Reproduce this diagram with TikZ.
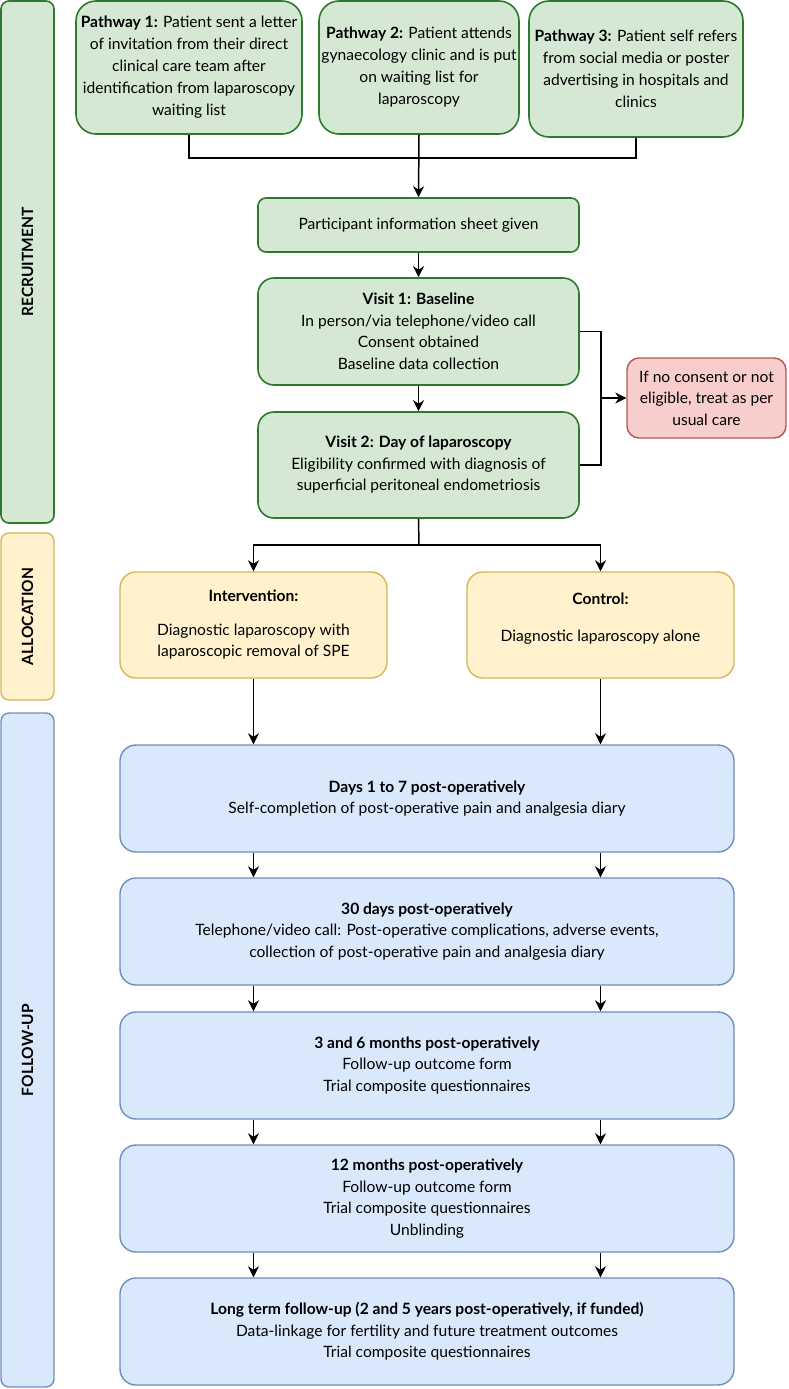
\documentclass[tikz,border=0pt]{standalone}
\usepackage{fontspec}
\setmainfont{Lato}
\usetikzlibrary{arrows.meta}
\definecolor{gfill}{HTML}{D5E8D4}
\definecolor{gdraw}{HTML}{2D7A2D}
\definecolor{yfill}{HTML}{FFF2CC}
\definecolor{ydraw}{HTML}{D6B656}
\definecolor{rfill}{HTML}{F8CECC}
\definecolor{rdraw}{HTML}{B85450}
\definecolor{bfill}{HTML}{DAE8FC}
\definecolor{bdraw}{HTML}{6C8EBF}
\tikzset{
  base/.style={rectangle, align=center, inner sep=2pt, font=\fontsize{15.6}{21.5}\selectfont},
  gbox/.style={base, draw=gdraw, fill=gfill, line width=1.6pt},
  ybox/.style={base, draw=ydraw, fill=yfill, line width=1.4pt},
  rbox/.style={base, draw=rdraw, fill=rfill, line width=1.4pt},
  bbox/.style={base, draw=bdraw, fill=bfill, line width=1.4pt},
  sidebar/.style={rotate=90, minimum height=53pt, rounded corners=8pt, font=\fontsize{15.5}{17}\selectfont\bfseries},
  conn/.style={line width=1.5pt, black},
  arr/.style={conn, -{Stealth[length=11pt,width=11pt,inset=3.5pt]}},
  fubox/.style={bbox, minimum width=614pt, minimum height=107pt, rounded corners=16pt},
  pbox/.style={gbox, minimum height=133pt, rounded corners=20pt, font=\fontsize{15.6}{22}\selectfont}
}
\begin{document}
\begin{tikzpicture}[x=1pt,y=-1pt]
\useasboundingbox (0,0) rectangle (788,1389);
% side bars
\node[gbox, sidebar, minimum width=522pt] (rec) at (27.5,262) {RECRUITMENT};
\node[ybox, sidebar, minimum width=167pt] (alloc) at (27.5,616.5) {ALLOCATION};
\node[bbox, sidebar, minimum width=674pt] (fu) at (27.5,1050) {FOLLOW-UP};
% pathways
\node[pbox, minimum width=226pt] (p1) at (189,67.5)
  {\textbf{Pathway 1:} Patient sent a letter\\of invitation from their direct\\clinical care team after\\identification from laparoscopy\\waiting list};
\node[pbox, minimum width=200pt] (p2) at (419,67.5)
  {\textbf{Pathway 2:} Patient attends\\gynaecology clinic and is put\\on waiting list for\\laparoscopy};
\node[pbox, minimum width=214pt, minimum height=136pt] (p3) at (636,69)
  {\textbf{Pathway 3:} Patient self refers\\from social media or poster\\advertising in hospitals and\\clinics};
% recruitment steps
\node[gbox, minimum width=321pt, minimum height=54pt, rounded corners=8pt] (info) at (418.5,225) {Participant information sheet given};
\node[gbox, minimum width=321pt, minimum height=107pt, rounded corners=16pt] (v1) at (418.5,331.5)
  {\textbf{Visit 1: Baseline}\\In person/via telephone/video call\\Consent obtained\\Baseline data collection};
\node[gbox, minimum width=321pt, minimum height=106pt, rounded corners=16pt] (v2) at (418.5,465)
  {\textbf{Visit 2: Day of laparoscopy}\\Eligibility confirmed with diagnosis of\\superficial peritoneal endometriosis};
\node[rbox, minimum width=159pt, minimum height=80pt, rounded corners=12pt] (red) at (706.5,398)
  {If no consent or not\\eligible, treat as per\\usual care};
% allocation
\node[ybox, minimum width=267pt, minimum height=106pt, rounded corners=16pt] (int) at (253.5,625)
  {\textbf{Intervention:}\\[12pt]Diagnostic laparoscopy with\\laparoscopic removal of SPE};
\node[ybox, minimum width=267pt, minimum height=106pt, rounded corners=16pt] (ctl) at (600.5,625)
  {\textbf{Control:}\\[15pt]Diagnostic laparoscopy alone\\[-6pt]\mbox{}};
% follow-up
\node[fubox] (f1) at (427,798.5)
  {\textbf{Days 1 to 7 post-operatively}\\Self-completion of post-operative pain and analgesia diary};
\node[fubox] (f2) at (427,931.5)
  {\textbf{30 days post-operatively}\\Telephone/video call: Post-operative complications, adverse events,\\collection of post-operative pain and analgesia diary};
\node[fubox] (f3) at (427,1065.5)
  {\textbf{3 and 6 months post-operatively}\\Follow-up outcome form\\Trial composite questionnaires};
\node[fubox] (f4) at (427,1198.5)
  {\textbf{12 months post-operatively}\\Follow-up outcome form\\Trial composite questionnaires\\Unblinding};
\node[fubox] (f5) at (427,1331.5)
  {\textbf{Long term follow-up (2 and 5 years post-operatively, if funded)}\\Data-linkage for fertility and future treatment outcomes\\Trial composite questionnaires};
% connectors
\coordinate (j) at (419,158);
\draw[conn] (p1.south) |- (j) -| (p3.south);
\draw[arr] (p2.south) -- (info.north);
\draw[arr] (info.south) -- (v1.north);
\draw[arr] (v1.south) -- (v2.north);
\coordinate (br) at (601,398);
\draw[conn] (v1.east) -| (br);
\draw[conn] (v2.east) -| (br);
\draw[arr] (br) -- (red.west);
\coordinate (a) at (419,545);
\draw[conn] (v2.south) -- (a);
\draw[arr] (a) -| (int.north);
\draw[arr] (a) -| (ctl.north);
\draw[arr] (int.south) -- (f1.north -| int.south);
\draw[arr] (ctl.south) -- (f1.north -| ctl.south);
\foreach \u/\v in {f1/f2,f2/f3,f3/f4,f4/f5}{
  \draw[arr] (\u.south -| int.south) -- (\v.north -| int.south);
  \draw[arr] (\u.south -| ctl.south) -- (\v.north -| ctl.south);
}
\end{tikzpicture}
\end{document}
